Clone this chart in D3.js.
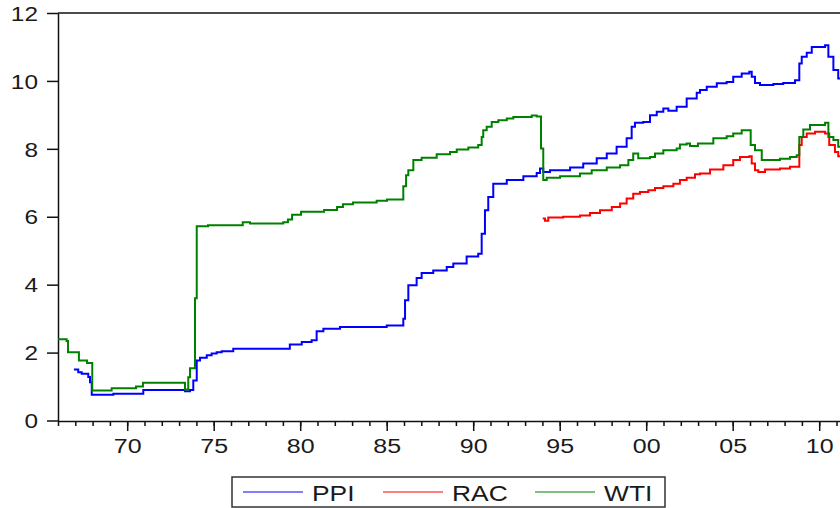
<!DOCTYPE html>
<html>
<head>
<meta charset="utf-8">
<script src="https://cdn.jsdelivr.net/npm/d3@7"></script>
<style>
  html, body { margin: 0; padding: 0; background: #fff; }
  svg { display: block; }
  text { font-family: "Liberation Sans", Arial, sans-serif; fill: #1a1a1a; }
</style>
</head>
<body>
<svg id="chart" width="840" height="508"></svg>
<script>
// Monthly price series (step changes), as [year, value]
const ppi = [
  [1966.92, 1.50], [1967.17, 1.42], [1967.37, 1.38], [1967.75, 1.28], [1967.85, 1.13],
  [1967.95, 0.76], [1969.20, 0.79], [1970.93, 0.90], [1973.34, 0.86], [1973.63, 0.90],
  [1973.82, 1.18], [1974.02, 1.77], [1974.21, 1.85], [1974.60, 1.92], [1974.88, 1.97],
  [1975.17, 2.01], [1975.46, 2.04], [1976.13, 2.11], [1979.40, 2.24], [1980.09, 2.31],
  [1980.66, 2.36], [1980.95, 2.63], [1981.34, 2.70], [1982.30, 2.75], [1985.00, 2.80],
  [1985.96, 3.00], [1986.06, 3.54], [1986.25, 3.98], [1986.73, 4.20], [1987.02, 4.34],
  [1987.69, 4.42], [1988.47, 4.52], [1988.85, 4.62], [1989.62, 4.83], [1990.29, 4.91],
  [1990.49, 5.50], [1990.68, 6.19], [1990.87, 6.58], [1991.16, 6.97], [1991.94, 7.08],
  [1992.90, 7.19], [1993.67, 7.29], [1993.86, 7.42], [1994.05, 7.32], [1994.44, 7.37],
  [1995.60, 7.45], [1996.36, 7.57], [1997.14, 7.72], [1997.72, 7.86], [1998.29, 8.06],
  [1998.87, 8.31], [1999.16, 8.65], [1999.35, 8.77], [1999.83, 8.79], [2000.22, 8.99],
  [2000.61, 9.09], [2000.99, 9.19], [2001.28, 9.12], [2001.76, 9.24], [2002.34, 9.48],
  [2002.92, 9.65], [2003.11, 9.73], [2003.50, 9.83], [2004.08, 9.93], [2004.65, 9.97],
  [2005.03, 10.12], [2005.52, 10.22], [2005.96, 10.27], [2006.10, 10.12], [2006.29, 9.94],
  [2006.58, 9.88], [2007.35, 9.91], [2007.92, 9.94], [2008.60, 10.02], [2008.85, 10.51],
  [2008.99, 10.71], [2009.28, 10.83], [2009.57, 11.00], [2010.34, 11.05], [2010.53, 10.71],
  [2010.82, 10.32], [2011.10, 10.07], [2011.30, 9.90]
];

const rac = [
  [1994.02, 5.95], [1994.15, 5.88], [1994.34, 5.98], [1995.20, 6.00], [1996.17, 6.04],
  [1996.75, 6.11], [1997.33, 6.19], [1998.01, 6.29], [1998.49, 6.39], [1998.87, 6.54],
  [1999.25, 6.68], [1999.64, 6.73], [2000.12, 6.78], [2000.51, 6.85], [2000.99, 6.90],
  [2001.57, 6.97], [2001.95, 7.08], [2002.34, 7.15], [2002.82, 7.25], [2003.11, 7.27],
  [2003.69, 7.39], [2004.46, 7.52], [2005.03, 7.67], [2005.42, 7.76], [2005.96, 7.78],
  [2006.10, 7.57], [2006.29, 7.37], [2006.48, 7.32], [2006.87, 7.39], [2007.73, 7.42],
  [2008.31, 7.47], [2008.85, 8.11], [2008.99, 8.35], [2009.28, 8.45], [2009.76, 8.50],
  [2010.34, 8.45], [2010.58, 8.11], [2010.91, 7.91], [2011.10, 7.78], [2011.30, 7.70]
];

const wti = [
  [1966.00, 2.39], [1966.50, 2.34], [1966.58, 2.01], [1967.21, 1.77], [1967.68, 1.69],
  [1967.98, 0.88], [1969.10, 0.95], [1970.51, 1.00], [1970.91, 1.11], [1973.34, 0.91],
  [1973.53, 1.27], [1973.63, 1.54], [1973.92, 3.60], [1974.02, 5.72], [1974.67, 5.75],
  [1976.68, 5.84], [1977.10, 5.80], [1979.02, 5.84], [1979.29, 5.92], [1979.53, 6.06],
  [1980.05, 6.15], [1981.38, 6.20], [1982.13, 6.29], [1982.47, 6.37], [1983.05, 6.42],
  [1984.42, 6.47], [1985.02, 6.51], [1985.96, 6.90], [1986.12, 7.22], [1986.25, 7.37],
  [1986.54, 7.67], [1987.02, 7.74], [1987.89, 7.84], [1988.66, 7.91], [1989.05, 7.98],
  [1989.72, 8.04], [1990.29, 8.11], [1990.49, 8.35], [1990.58, 8.55], [1990.78, 8.65],
  [1991.07, 8.79], [1991.45, 8.84], [1991.94, 8.89], [1992.32, 8.94], [1993.38, 8.98],
  [1993.67, 8.95], [1993.92, 8.01], [1994.05, 7.08], [1994.25, 7.15], [1995.02, 7.19],
  [1996.17, 7.27], [1996.85, 7.37], [1997.72, 7.45], [1998.49, 7.52], [1998.97, 7.67],
  [1999.25, 7.86], [1999.54, 7.72], [2000.22, 7.76], [2000.51, 7.86], [2000.99, 7.96],
  [2001.76, 8.01], [2001.95, 8.13], [2002.34, 8.16], [2002.53, 8.08], [2002.99, 8.16],
  [2003.88, 8.31], [2004.65, 8.37], [2005.03, 8.45], [2005.52, 8.55], [2006.04, 8.11],
  [2006.29, 7.96], [2006.68, 7.67], [2007.73, 7.71], [2008.31, 7.76], [2008.70, 7.81],
  [2008.85, 8.35], [2009.08, 8.57], [2009.47, 8.70], [2010.34, 8.77], [2010.53, 8.35],
  [2010.82, 8.26], [2011.10, 8.06], [2011.30, 7.90]
];

const seriesNames = ["PPI", "RAC", "WTI"];
const seriesColors = ["#0000ff", "#ff0000", "#008000"];
const yTicks = [0, 2, 4, 6, 8, 10, 12];
const majorYears = [1970, 1975, 1980, 1985, 1990, 1995, 2000, 2005, 2010];
const minorYears = d3.range(1966, 2012);

const svg = d3.select("#chart");
const plotLeft = 58, plotTop = 13, plotBottom = 420.5;

const x = d3.scaleLinear().domain([1966, 2012]).range([plotLeft, plotLeft + 46 * 17.3]);
const y = d3.scaleLinear().domain([0, 12]).range([plotBottom, plotTop]);

// clip region for the plotted lines
svg.append("clipPath").attr("id", "plotclip")
  .append("rect").attr("x", plotLeft).attr("y", plotTop)
  .attr("width", 900).attr("height", plotBottom - plotTop + 1);

// y axis
const yAxis = svg.append("g")
  .attr("transform", `translate(${plotLeft},0)`)
  .call(d3.axisLeft(y).tickValues(yTicks).tickSize(11).tickSizeOuter(0).tickFormat(d3.format("d")));
yAxis.selectAll("path, line").attr("stroke", "#111").attr("stroke-width", 1.5);
yAxis.selectAll("text")
  .attr("x", null).attr("dy", "0.36em")
  .attr("transform", "translate(-20,0) scale(1.22,1)")
  .style("font-size", "20px").attr("fill", "#1a1a1a");

// x axis: minor yearly ticks and labelled 5-year ticks
const axisY = plotBottom + 0.5;
const xMinor = svg.append("g")
  .attr("transform", `translate(0,${axisY})`)
  .call(d3.axisBottom(x).tickValues(minorYears).tickSize(5).tickSizeOuter(0).tickFormat(""));
xMinor.selectAll("path, line").attr("stroke", "#111").attr("stroke-width", 1.5);

const xMajor = svg.append("g")
  .attr("transform", `translate(0,${axisY})`)
  .call(d3.axisBottom(x).tickValues(majorYears).tickSize(10).tickSizeOuter(0)
    .tickFormat(d => String(d % 100).padStart(2, "0")));
xMajor.select(".domain").remove();
xMajor.selectAll("line").attr("stroke", "#111").attr("stroke-width", 1.5);
xMajor.selectAll("text")
  .attr("y", null).attr("dy", null)
  .attr("transform", "translate(0,32) scale(1.25,1)")
  .style("font-size", "20px").attr("fill", "#1a1a1a");

// top frame line
svg.append("line")
  .attr("x1", plotLeft).attr("x2", 840).attr("y1", plotTop).attr("y2", plotTop)
  .attr("stroke", "#111").attr("stroke-width", 1.5);

// series lines
const line = d3.line()
  .x(d => x(d[0]))
  .y(d => y(d[1]))
  .curve(d3.curveStepAfter);

const plot = svg.append("g").attr("clip-path", "url(#plotclip)");
[ppi, rac, wti].forEach((data, i) => {
  plot.append("path")
    .datum(data)
    .attr("fill", "none")
    .attr("stroke", seriesColors[i])
    .attr("stroke-width", 2)
    .attr("d", line);
});

// legend
const legend = svg.append("g");
legend.append("rect")
  .attr("x", 232).attr("y", 477).attr("width", 433).attr("height", 30)
  .attr("fill", "#fff").attr("stroke", "#333").attr("stroke-width", 1.5);
const legendX = [243, 383, 535];
seriesNames.forEach((name, i) => {
  legend.append("line")
    .attr("x1", legendX[i]).attr("x2", legendX[i] + 60)
    .attr("y1", 492).attr("y2", 492)
    .attr("stroke", seriesColors[i]).attr("stroke-width", 1.2);
  legend.append("text")
    .attr("transform", `translate(${legendX[i] + 69},501) scale(1.2,1)`)
    .style("font-size", "22px")
    .text(name);
});
</script>
</body>
</html>
